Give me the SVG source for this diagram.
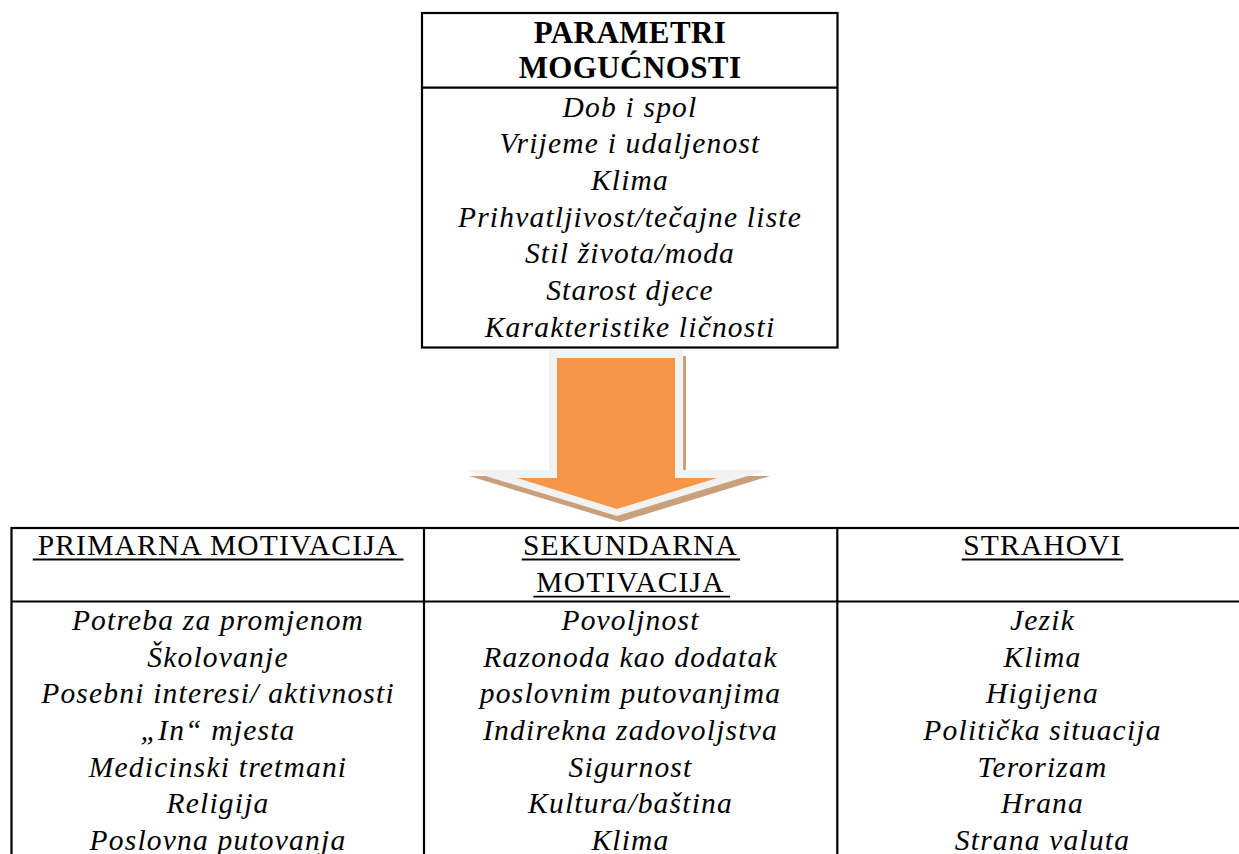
<svg xmlns="http://www.w3.org/2000/svg" width="1239" height="854" viewBox="0 0 1239 854">
<style>
.frame{fill:none;stroke:#000;stroke-width:2.2}
.ln{stroke:#000;stroke-width:2.2}
.ul{stroke:#000;stroke-width:1.8}
text{font-family:"Liberation Serif","Times New Roman",serif;font-size:29.5px;letter-spacing:1.2px;text-anchor:middle;fill:#000}
.hb{font-weight:bold;letter-spacing:0.4px;font-size:31px}
.it{font-style:italic}
</style>
<rect width="1239" height="854" fill="#fff"/>

<g id="parametri">
  <rect class="frame" x="422" y="13" width="415.5" height="334.5"/>
  <line class="ln" x1="422" y1="87.7" x2="837.5" y2="87.7"/>
  <text class="hb" x="630" y="43.3">PARAMETRI</text>
  <text class="hb" x="630" y="78.3">MOGUĆNOSTI</text>
  <text class="it" x="630" y="116.7">Dob i spol</text>
  <text class="it" x="630" y="153.3">Vrijeme i udaljenost</text>
  <text class="it" x="630" y="190">Klima</text>
  <text class="it" x="630" y="226.7">Prihvatljivost/tečajne liste</text>
  <text class="it" x="630" y="263.3">Stil života/moda</text>
  <text class="it" x="630" y="300">Starost djece</text>
  <text class="it" x="630" y="336.7">Karakteristike ličnosti</text>
</g>

<g id="connectors">
  <polygon fill="#C9A07C" points="552,356 686,356 686,476 770,476 620,522 469,476 552,476"/>
  <polygon fill="#F2F2F2" points="549,350 683,350 683,470 767,470 617,516 466,470 549,470"/>
  <polygon fill="#F79646" points="557,358 675,358 675,478 717,478 617,509 517,478 557,478"/>
</g>

<g id="table">
  <rect class="frame" x="11.5" y="528" width="1237" height="350"/>
  <line class="ln" x1="11.5" y1="601.5" x2="1248.5" y2="601.5"/>
  <line class="ln" x1="424" y1="528" x2="424" y2="878"/>
  <line class="ln" x1="837.3" y1="528" x2="837.3" y2="878"/>
</g>

<g id="primarna">
  <text x="218" y="555">PRIMARNA MOTIVACIJA</text>
  <line class="ul" x1="32.7" y1="559.5" x2="403.5" y2="559.5"/>
  <text class="it" x="218" y="630">Potreba za promjenom</text>
  <text class="it" x="218" y="666.7">Školovanje</text>
  <text class="it" x="218" y="703.3">Posebni interesi/ aktivnosti</text>
  <text class="it" x="218" y="740">„In“ mjesta</text>
  <text class="it" x="218" y="776.7">Medicinski tretmani</text>
  <text class="it" x="218" y="813.3">Religija</text>
  <text class="it" x="218" y="850">Poslovna putovanja</text>
</g>

<g id="sekundarna">
  <text x="630.5" y="555">SEKUNDARNA</text>
  <line class="ul" x1="521.7" y1="559.5" x2="740" y2="559.5"/>
  <text x="630.5" y="591.7">MOTIVACIJA</text>
  <line class="ul" x1="533.3" y1="596.7" x2="730" y2="596.7"/>
  <text class="it" x="630.5" y="630">Povoljnost</text>
  <text class="it" x="630.5" y="666.7">Razonoda kao dodatak</text>
  <text class="it" x="630.5" y="703.3">poslovnim putovanjima</text>
  <text class="it" x="630.5" y="740">Indirekna zadovoljstva</text>
  <text class="it" x="630.5" y="776.7">Sigurnost</text>
  <text class="it" x="630.5" y="813.3">Kultura/baština</text>
  <text class="it" x="630.5" y="850">Klima</text>
</g>

<g id="strahovi">
  <text x="1042.5" y="555">STRAHOVI</text>
  <line class="ul" x1="961.7" y1="559.5" x2="1123.3" y2="559.5"/>
  <text class="it" x="1042.5" y="630">Jezik</text>
  <text class="it" x="1042.5" y="666.7">Klima</text>
  <text class="it" x="1042.5" y="703.3">Higijena</text>
  <text class="it" x="1042.5" y="740">Politička situacija</text>
  <text class="it" x="1042.5" y="776.7">Terorizam</text>
  <text class="it" x="1042.5" y="813.3">Hrana</text>
  <text class="it" x="1042.5" y="850">Strana valuta</text>
</g>
</svg>
